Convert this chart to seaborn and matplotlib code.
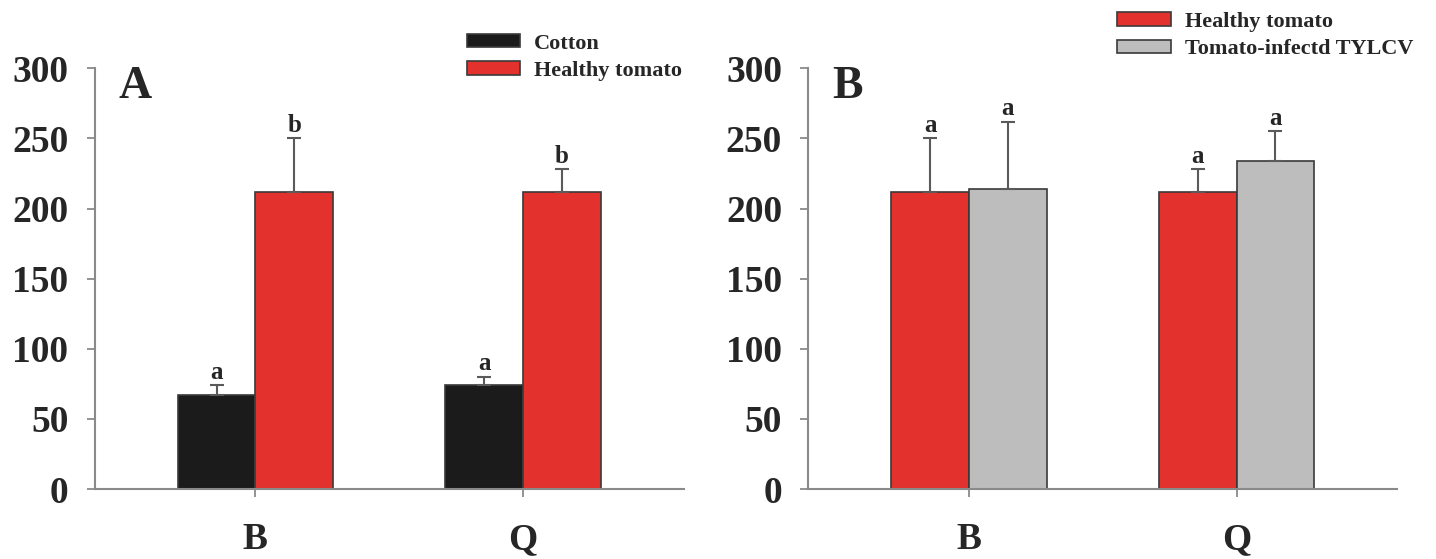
import matplotlib
matplotlib.use("Agg")
import matplotlib.pyplot as plt
import pandas as pd
import seaborn as sns

strains = ["B", "Q"]

# panel A
hosts_a = ["Cotton", "Healthy tomato"]
mean_a = {"Cotton": [67, 74], "Healthy tomato": [212, 212]}
sd_a = {"Cotton": [7, 6], "Healthy tomato": [38, 16]}
letters_a = {"Cotton": ["a", "a"], "Healthy tomato": ["b", "b"]}

# panel B
hosts_b = ["Healthy tomato", "Tomato-infectd TYLCV"]
mean_b = {"Healthy tomato": [212, 212], "Tomato-infectd TYLCV": [214, 234]}
sd_b = {"Healthy tomato": [38, 16], "Tomato-infectd TYLCV": [48, 21]}
letters_b = {"Healthy tomato": ["a", "a"], "Tomato-infectd TYLCV": ["a", "a"]}

colors = {"Cotton": "#1b1b1b", "Healthy tomato": "#e3312d",
          "Tomato-infectd TYLCV": "#bdbdbd"}
yticks = [0, 50, 100, 150, 200, 250, 300]


def make_frame(hosts, means):
    rows = []
    for h in hosts:
        for s, v in zip(strains, means[h]):
            rows.append({"strain": s, "host": h, "value": v})
    return pd.DataFrame(rows)


def draw_panel(ax, hosts, means, sds, letters, tag):
    df = make_frame(hosts, means)
    sns.barplot(data=df, x="strain", y="value", hue="host", order=strains,
                hue_order=hosts, palette=colors, width=0.58, errorbar=None,
                edgecolor="#3a3a3a", linewidth=1.2, saturation=1, ax=ax)
    for host, cont in zip(hosts, ax.containers):
        for i, bar in enumerate(cont.patches):
            xc = bar.get_x() + bar.get_width() / 2
            top = bar.get_height()
            ax.errorbar(xc, top, yerr=[[0], [sds[host][i]]], fmt="none",
                        ecolor="#5a5a5a", elinewidth=1.5, capsize=5,
                        capthick=1.5, zorder=1)
            ax.annotate(letters[host][i], (xc, top + sds[host][i]),
                        xytext=(0, 1), textcoords="offset points",
                        ha="center", va="bottom", fontsize=18,
                        fontweight="bold")
    ax.set_xlim(-0.6, 1.6)
    ax.set_ylim(0, 300)
    ax.set_yticks(yticks)
    ax.set_xlabel("")
    ax.set_ylabel("")
    for side in ["top", "right"]:
        ax.spines[side].set_visible(False)
    for side in ["left", "bottom"]:
        ax.spines[side].set_color("#8a8a8a")
        ax.spines[side].set_linewidth(1.5)
    ax.tick_params(axis="y", length=6, width=1.3, color="#8a8a8a",
                   labelsize=27, pad=13)
    ax.tick_params(axis="x", length=6, width=1.3, color="#8a8a8a",
                   labelsize=27, pad=18)
    for lab in ax.get_xticklabels() + ax.get_yticklabels():
        lab.set_fontweight("bold")
    ax.text(0.041, 1.005, tag, transform=ax.transAxes, fontsize=33,
            fontweight="bold", va="top", ha="left")
    ax.get_legend().remove()


sns.set_style("ticks")
plt.rcParams["font.family"] = ["Liberation Serif", "DejaVu Serif"]

fig = plt.figure(figsize=(14.36, 5.59), dpi=100)
ax_a = fig.add_axes([0.066, 0.125, 0.41, 0.753])
ax_b = fig.add_axes([0.563, 0.125, 0.41, 0.753])

draw_panel(ax_a, hosts_a, mean_a, sd_a, letters_a, "A")
draw_panel(ax_b, hosts_b, mean_b, sd_b, letters_b, "B")

for hosts, anchor in [(hosts_a, (0.325, 0.940)), (hosts_b, (0.778, 0.979))]:
    handles = [plt.Rectangle((0, 0), 1, 1, facecolor=colors[h],
                             edgecolor="#3a3a3a", linewidth=1.2)
               for h in hosts]
    leg = fig.legend(handles, hosts, loc="upper left", bbox_to_anchor=anchor,
                     frameon=False, fontsize=16, handlelength=2.4,
                     handleheight=0.55, handletextpad=0.63, labelspacing=0.33,
                     borderpad=0, borderaxespad=0)
    for t in leg.get_texts():
        t.set_fontweight("bold")

fig.savefig("out.png", dpi=100)
